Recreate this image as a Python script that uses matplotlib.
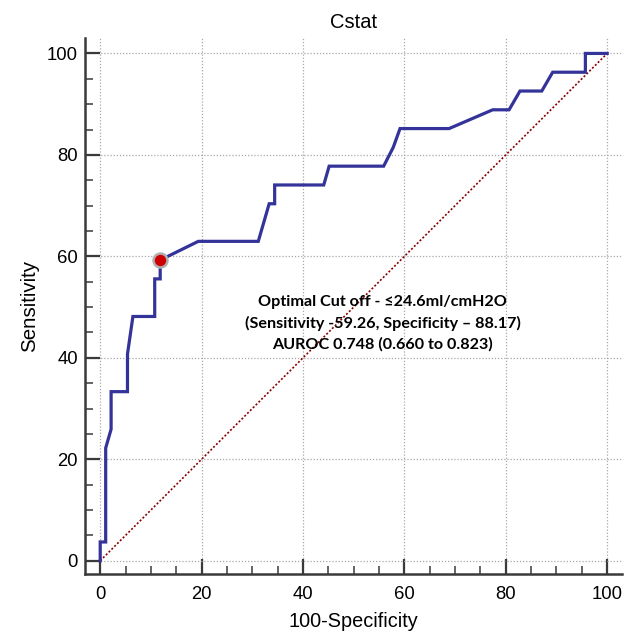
import matplotlib
matplotlib.use("Agg")
import matplotlib.pyplot as plt
from matplotlib.ticker import MultipleLocator

# ROC curve vertices (100-Specificity, Sensitivity)
fpr = [0, 0, 1.08, 1.08, 2.15, 2.15, 5.38, 5.38, 6.45, 10.75, 10.75, 11.83, 11.83,
       19.35, 31.18, 33.33, 34.41, 34.41, 44.09, 45.16, 55.91, 57.80, 59.14,
       68.82, 77.42, 80.65, 82.80, 87.10, 89.25, 95.70, 95.70, 100]
sens = [0, 3.70, 3.70, 22.22, 25.93, 33.33, 33.33, 40.74, 48.15, 48.15, 55.56, 55.56, 59.26,
        62.96, 62.96, 70.37, 70.37, 74.07, 74.07, 77.78, 77.78, 81.48, 85.19,
        85.19, 88.89, 88.89, 92.59, 92.59, 96.30, 96.30, 100, 100]
opt_x = [11.83]
opt_y = [59.26]
diag = [0, 100]
ticks = [0, 20, 40, 60, 80, 100]

title = "Cstat"
xlabel = "100-Specificity"
ylabel = "Sensitivity"
note = ("Optimal Cut off - \u226424.6ml/cmH2O\n"
        "(Sensitivity -59.26, Specificity \u2013 88.17)\n"
        "AUROC 0.748 (0.660 to 0.823)")

plt.rcParams['font.family'] = ['Liberation Sans', 'DejaVu Sans']

fig = plt.figure(figsize=(6.25, 6.37), dpi=100)
ax = fig.add_axes([0.136, 0.099, 0.859, 0.841])

ax.set_xlim(-3.0, 102.9)
ax.set_ylim(-2.6, 103.0)

ax.grid(True, which='major', linestyle=(0, (1, 1.5)), color='#a8a8a8', linewidth=0.9)
ax.set_axisbelow(True)

ax.plot(diag, diag, color='#8b0000', linestyle=(0, (1.2, 1.2)), linewidth=1.2, zorder=2)
ax.plot(fpr, sens, color='#333399', linewidth=2.3, solid_joinstyle='miter', zorder=3)
ax.plot(opt_x, opt_y, 'o', color='#cc0000', markersize=10, markeredgecolor='#b0b0b0',
        markeredgewidth=1.8, zorder=4)

ax.text(55.7, 46.8, note, ha='center', va='center', fontsize=11.6, fontweight='bold',
        family=['Lato', 'DejaVu Sans'], linespacing=1.58, zorder=5)

for s in ['top', 'right']:
    ax.spines[s].set_visible(False)
for s in ['left', 'bottom']:
    ax.spines[s].set_color('#3a3a3a')
    ax.spines[s].set_linewidth(1.8)

ax.set_xticks(ticks)
ax.set_yticks(ticks)
ax.xaxis.set_minor_locator(MultipleLocator(5))
ax.yaxis.set_minor_locator(MultipleLocator(5))
ax.tick_params(which='major', direction='in', length=10.5, width=1.6, color='#3a3a3a',
               labelsize=13.3)
ax.tick_params(which='minor', direction='in', length=5.5, width=1.1, color='#3a3a3a')
ax.tick_params(axis='x', which='major', pad=9)
ax.tick_params(axis='y', which='major', pad=5)

ax.set_title(title, fontsize=14.5, pad=7)
ax.set_xlabel(xlabel, fontsize=14.3, labelpad=6)
ax.set_ylabel(ylabel, fontsize=14.8, labelpad=6)

fig.savefig("out.png", dpi=100)
